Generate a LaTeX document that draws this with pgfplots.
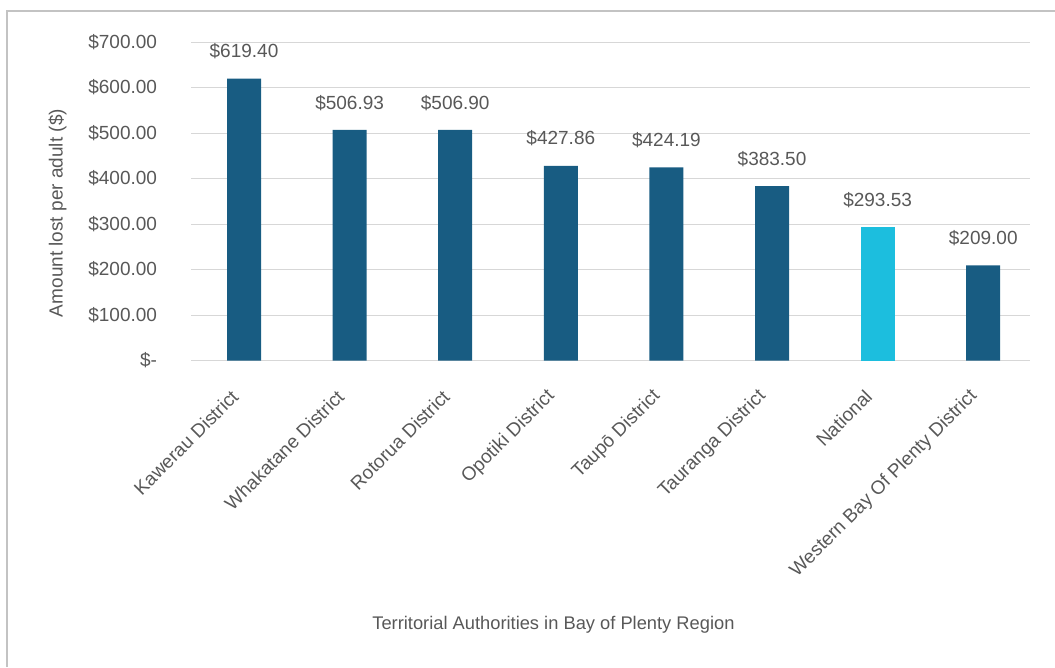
\documentclass[border=0pt]{standalone}
\usepackage{pgfplots}
\pgfplotsset{compat=1.18}
\usepackage{fontspec}
\setmainfont{Liberation Sans}

\definecolor{bardark}{RGB}{24,92,130}
\definecolor{barnat}{RGB}{28,190,222}
\definecolor{txt}{RGB}{88,88,88}
\definecolor{gridc}{RGB}{215,215,215}
\definecolor{framec}{RGB}{195,195,195}

\newcommand{\lblfont}{\fontsize{19}{21}\selectfont}

\begin{document}
\begin{tikzpicture}
\useasboundingbox (0,0) rectangle (1055pt,667pt);
% outer frame of the chart panel
\draw[framec, line width=1.6pt] (7pt,0pt) -- (7pt,656pt) -- (1055pt,656pt);

\begin{axis}[
  at={(191.2pt,306.5pt)}, anchor=south west,
  scale only axis,
  width=838.5pt, height=318.5pt,
  xmin=-0.5, xmax=7.44,
  ymin=0, ymax=700,
  ytick={0,100,...,700},
  yticklabels={\$-,\$100.00,\$200.00,\$300.00,\$400.00,\$500.00,\$600.00,\$700.00},
  xtick={0,...,7},
  xticklabels={Kawerau District,Whakatane District,Rotorua District,Opotiki District,Taupō District,Tauranga District,National,Western Bay Of Plenty District},
  ymajorgrids,
  major grid style={gridc, line width=1pt},
  axis line style={draw=none},
  major tick length=0pt,
  yticklabel style={font=\lblfont, text=txt, anchor=east, inner sep=0pt, xshift=-34pt},
  xticklabel style={font=\lblfont, text=txt, inner sep=0pt, xshift=-9pt, yshift=-33pt, rotate=45, anchor=east},
  ybar, bar width=34pt, bar shift=0pt,
  every axis y label/.style={at={(axis description cs:-0.1595,0.463)}, rotate=90, anchor=center, font=\lblfont, text=txt},
  ylabel={Amount lost per adult (\$)},
  every axis x label/.style={at={(axis description cs:0.432,-0.830)}, anchor=center, font=\fontsize{18.3}{20}\selectfont, text=txt},
  xlabel={Territorial Authorities in Bay of Plenty Region},
  nodes near coords,
  point meta=explicit symbolic,
  nodes near coords style={font=\lblfont, text=txt, anchor=south, yshift=16pt},
  clip=false,
]
\addplot[fill=bardark, draw=none] coordinates {
  (0,619.40) [\$619.40]
  (1,506.93) [\$506.93]
  (2,506.90) [\$506.90]
  (3,427.86) [\$427.86]
  (4,424.19) [\$424.19]
  (5,383.50) [\$383.50]
  (7,209.00) [\$209.00]
};
\addplot[fill=barnat, draw=none] coordinates {
  (6,293.53) [\$293.53]
};
\end{axis}
\end{tikzpicture}
\end{document}
